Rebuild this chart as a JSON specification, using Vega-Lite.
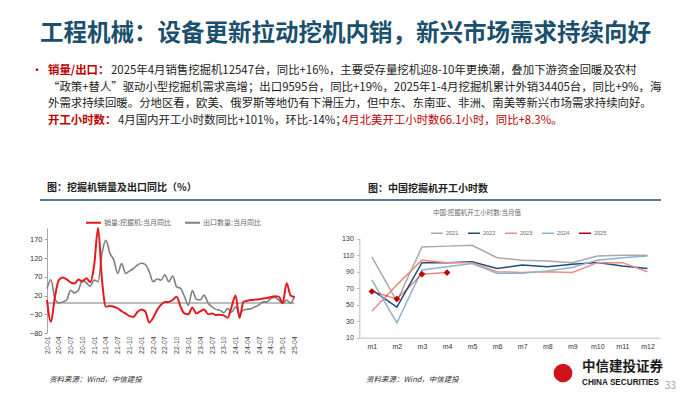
{
  "$schema": "https://vega.github.io/schema/vega-lite/v6.json",
  "width": 700,
  "height": 394,
  "autosize": {"type": "none"},
  "padding": 0,
  "background": "white",
  "config": {
    "view": {"stroke": null},
    "font": "Noto Sans CJK SC",
    "axis": {"labelFont": "Liberation Sans", "grid": false},
    "legend": {"labelFont": "Noto Sans CJK SC", "padding": 0}
  },
  "layer": [
    {
      "data": {"values": [{"t": "工程机械：设备更新拉动挖机内销，新兴市场需求持续向好"}]},
      "mark": {"type": "text", "x": 40, "y": 34, "align": "left", "baseline": "middle", "fontSize": 23.5, "fontWeight": "bold", "color": "#1b4f6e"},
      "encoding": {"text": {"field": "t"}}
    },
    {
      "data": {"values": [
        {"line": "1", "seg": "bullet", "t": "•"},
        {"line": "1", "seg": "label", "t": "销量/出口："},
        {"line": "1", "seg": "body1", "t": "2025年4月销售挖掘机12547台，同比+16%，主要受存量挖机迎8-10年更换潮，叠加下游资金回暖及农村"},
        {"line": "2", "seg": "body0", "t": "“政策+替人”驱动小型挖掘机需求高增；出口9595台，同比+19%，2025年1-4月挖掘机累计外销34405台，同比+9%，海"},
        {"line": "3", "seg": "body0", "t": "外需求持续回暖。分地区看，欧美、俄罗斯等地仍有下滑压力，但中东、东南亚、非洲、南美等新兴市场需求持续向好。"},
        {"line": "4", "seg": "label", "t": "开工小时数："},
        {"line": "4", "seg": "body4", "t": "4月国内开工小时数同比+101%，环比-14%；"},
        {"line": "4", "seg": "tail", "t": "4月北美开工小时数66.1小时，同比+8.3%。"}
      ]},
      "encoding": {
        "y": {"field": "line", "type": "ordinal", "scale": {"type": "point", "range": [71, 121], "padding": 0}, "axis": null},
        "text": {"field": "t"}
      },
      "layer": [
        {"transform": [{"filter": "datum.seg === 'bullet'"}], "mark": {"type": "text", "x": 31, "align": "left", "baseline": "middle", "fontSize": 12, "color": "#c00000"}},
        {"transform": [{"filter": "datum.seg === 'label'"}], "mark": {"type": "text", "x": 48, "align": "left", "baseline": "middle", "fontSize": 11.4, "fontWeight": "bold", "color": "#c00000"}},
        {"transform": [{"filter": "datum.seg === 'body1'"}], "mark": {"type": "text", "x": 111, "align": "left", "baseline": "middle", "fontSize": 11.4, "color": "#222222"}},
        {"transform": [{"filter": "datum.seg === 'body0'"}], "mark": {"type": "text", "x": 48, "align": "left", "baseline": "middle", "fontSize": 11.4, "color": "#222222"}},
        {"transform": [{"filter": "datum.seg === 'body4'"}], "mark": {"type": "text", "x": 118, "align": "left", "baseline": "middle", "fontSize": 11.4, "color": "#222222"}},
        {"transform": [{"filter": "datum.seg === 'tail'"}], "mark": {"type": "text", "x": 342, "align": "left", "baseline": "middle", "fontSize": 11.4, "color": "#c00000"}}
      ]
    },
    {
      "data": {"values": [{"t": "图：挖掘机销量及出口同比（%）"}]},
      "mark": {"type": "text", "x": 47, "y": 188, "align": "left", "baseline": "middle", "fontSize": 10, "fontWeight": "bold", "color": "#222222"},
      "encoding": {"text": {"field": "t"}}
    },
    {
      "data": {"values": [{"t": "图：中国挖掘机开工小时数"}]},
      "mark": {"type": "text", "x": 368, "y": 189, "align": "left", "baseline": "middle", "fontSize": 10, "fontWeight": "bold", "color": "#222222"},
      "encoding": {"text": {"field": "t"}}
    },
    {
      "data": {"values": [{}]},
      "mark": {"type": "rule", "color": "#1f4e79", "strokeWidth": 1.5},
      "encoding": {"x": {"value": 40}, "x2": {"value": 661}, "y": {"value": 200}}
    },
    {
      "data": {"values": [{"t": "中国:挖掘机开工小时数:当月值"}]},
      "mark": {"type": "text", "x": 477, "y": 213, "align": "center", "baseline": "middle", "fontSize": 6.5, "color": "#666666"},
      "encoding": {"text": {"field": "t"}}
    },
    {
      "data": {"values": [
        {"m": "20-01", "s": 8, "e": 39}, {"m": "20-02", "s": -50, "e": 62}, {"m": "20-03", "s": 15, "e": 12},
        {"m": "20-04", "s": 61, "e": 0}, {"m": "20-05", "s": 68, "e": 3}, {"m": "20-06", "s": 63, "e": 8},
        {"m": "20-07", "s": 55, "e": 34}, {"m": "20-08", "s": 52, "e": 27}, {"m": "20-09", "s": 63, "e": 34},
        {"m": "20-10", "s": 57, "e": 61}, {"m": "20-11", "s": 66, "e": 54}, {"m": "20-12", "s": 56, "e": 45},
        {"m": "21-01", "s": 100, "e": 61}, {"m": "21-02", "s": 200, "e": 57}, {"m": "21-03", "s": 61, "e": 133},
        {"m": "21-04", "s": -10, "e": 167}, {"m": "21-05", "s": -8, "e": 133}, {"m": "21-06", "s": -10, "e": 115},
        {"m": "21-07", "s": -14, "e": 79}, {"m": "21-08", "s": -22, "e": 105}, {"m": "21-09", "s": -28, "e": 79},
        {"m": "21-10", "s": -35, "e": 85}, {"m": "21-11", "s": -37, "e": 92}, {"m": "21-12", "s": -24, "e": 101},
        {"m": "22-01", "s": -17, "e": 106}, {"m": "22-02", "s": -22, "e": 103}, {"m": "22-03", "s": -52, "e": 84},
        {"m": "22-04", "s": -40, "e": 57}, {"m": "22-05", "s": -19, "e": 64}, {"m": "22-06", "s": -5, "e": 61},
        {"m": "22-07", "s": 3, "e": 75}, {"m": "22-08", "s": 3, "e": 57}, {"m": "22-09", "s": 8, "e": 72},
        {"m": "22-10", "s": 17, "e": 43}, {"m": "22-11", "s": -10, "e": 39}, {"m": "22-12", "s": -28, "e": 17},
        {"m": "23-01", "s": -30, "e": -6}, {"m": "23-02", "s": -12, "e": 33}, {"m": "23-03", "s": -28, "e": 10},
        {"m": "23-04", "s": -22, "e": 8}, {"m": "23-05", "s": -17, "e": 21}, {"m": "23-06", "s": -30, "e": 0},
        {"m": "23-07", "s": -28, "e": -10}, {"m": "23-08", "s": -32, "e": -17}, {"m": "23-09", "s": -31, "e": -19},
        {"m": "23-10", "s": -33, "e": -26}, {"m": "23-11", "s": -39, "e": -15}, {"m": "23-12", "s": -10, "e": -24},
        {"m": "24-01", "s": 20, "e": -10}, {"m": "24-02", "s": -40, "e": -28}, {"m": "24-03", "s": 3, "e": -19},
        {"m": "24-04", "s": 6, "e": -17}, {"m": "24-05", "s": 8, "e": -15}, {"m": "24-06", "s": 9, "e": -10},
        {"m": "24-07", "s": 10, "e": -5}, {"m": "24-08", "s": 12, "e": 3}, {"m": "24-09", "s": 13, "e": 3},
        {"m": "24-10", "s": 16, "e": 12}, {"m": "24-11", "s": 18, "e": 15}, {"m": "24-12", "s": 17, "e": 8},
        {"m": "25-01", "s": 0, "e": -1}, {"m": "25-02", "s": 53, "e": 8}, {"m": "25-03", "s": 20, "e": -1},
        {"m": "25-04", "s": 16, "e": 19}
      ]},
      "encoding": {
        "x": {
          "field": "m", "type": "ordinal",
          "scale": {"type": "point", "range": [47, 294.5], "padding": 0},
          "axis": {
            "orient": "bottom", "offset": -61, "title": null,
            "values": ["20-01","20-04","20-07","20-10","21-01","21-04","21-07","21-10","22-01","22-04","22-07","22-10","23-01","23-04","23-07","23-10","24-01","24-04","24-07","24-10","25-01","25-04"],
            "labelAngle": 270, "labelFontSize": 6.8, "labelColor": "#444444", "labelPadding": 3,
            "domain": false, "ticks": false, "labelOverlap": false
          }
        }
      },
      "layer": [
        {
          "data": {"values": [{}]},
          "mark": {"type": "rule", "color": "#a6a6a6", "strokeWidth": 1.5},
          "encoding": {
            "x": {"datum": "20-01", "type": "ordinal"},
            "x2": {"datum": "25-04"},
            "y": {"datum": 0, "type": "quantitative"}
          }
        },
        {
          "transform": [{"fold": ["e", "s"], "as": ["k", "v"]}, {"filter": "datum.k === 'e'"}],
          "mark": {"type": "line", "interpolate": "monotone", "strokeWidth": 1.6},
          "encoding": {
            "y": {
              "field": "v", "type": "quantitative",
              "scale": {"domain": [-80, 200], "range": [333, 228], "nice": false, "zero": false},
              "axis": {"orient": "left", "offset": -47, "values": [-80, -30, 20, 70, 120, 170], "title": null, "labelFontSize": 7.5, "labelColor": "#333333", "domainColor": "#a6a6a6", "tickColor": "#a6a6a6", "tickSize": 3, "labelPadding": 2}
            },
            "color": {
              "field": "k", "type": "nominal",
              "scale": {"domain": ["s", "e"], "range": ["#e3191e", "#7f7f7f"]},
              "legend": {"orient": "none", "legendX": 85, "legendY": 214, "direction": "horizontal", "title": null, "symbolType": "stroke", "symbolSize": 225, "symbolStrokeWidth": 2, "labelFontSize": 7, "labelColor": "#666666", "columnPadding": 10, "labelOffset": 2, "labelExpr": "datum.label === 's' ? '销量:挖掘机:当月同比' : '出口数量:当月同比'"}
            }
          }
        },
        {
          "transform": [{"fold": ["e", "s"], "as": ["k", "v"]}, {"filter": "datum.k === 's'"}],
          "mark": {"type": "line", "interpolate": "monotone", "strokeWidth": 2},
          "encoding": {
            "y": {"field": "v", "type": "quantitative"},
            "color": {"field": "k", "type": "nominal"}
          }
        }
      ]
    },
    {
      "data": {"values": [
        {"m": "m1", "2021": 108, "2022": 68, "2023": 42, "2024": 80, "2025": 66},
        {"m": "m2", "2021": 54, "2022": 47, "2023": 74, "2024": 28, "2025": 57},
        {"m": "m3", "2021": 120, "2022": 101, "2023": 104, "2024": 92, "2025": 87},
        {"m": "m4", "2021": 121, "2022": 101, "2023": 101, "2024": 96, "2025": 89},
        {"m": "m5", "2021": 122, "2022": 102, "2023": 101, "2024": 100},
        {"m": "m6", "2021": 107, "2022": 94, "2023": 90, "2024": 88},
        {"m": "m7", "2021": 104, "2022": 98, "2023": 89, "2024": 88},
        {"m": "m8", "2021": 103, "2022": 96, "2023": 90, "2024": 91},
        {"m": "m9", "2021": 101, "2022": 99, "2023": 89, "2024": 95},
        {"m": "m10", "2021": 109, "2022": 101, "2023": 101, "2024": 104},
        {"m": "m11", "2021": 110, "2022": 97, "2023": 101, "2024": 107},
        {"m": "m12", "2021": 110, "2022": 94, "2023": 90, "2024": 109}
      ]},
      "transform": [{"fold": ["2021", "2022", "2023", "2024", "2025"], "as": ["year", "hours"]}, {"filter": "isValid(datum.hours)"}],
      "encoding": {
        "x": {
          "field": "m", "type": "ordinal",
          "scale": {"type": "point", "domain": ["m1","m2","m3","m4","m5","m6","m7","m8","m9","m10","m11","m12"], "range": [359.3, 660], "padding": 0.5},
          "axis": {"orient": "bottom", "offset": -56.3, "title": null, "labelAngle": 0, "labelFontSize": 7, "labelColor": "#333333", "labelPadding": 5, "domainColor": "#bfbfbf", "ticks": false}
        },
        "y": {
          "field": "hours", "type": "quantitative",
          "scale": {"domain": [10, 130], "range": [337.7, 238.7], "nice": false, "zero": false},
          "axis": {"orient": "left", "offset": -359.3, "values": [10, 30, 50, 70, 90, 110, 130], "title": null, "labelFontSize": 7, "labelColor": "#333333", "domainColor": "#bfbfbf", "tickColor": "#bfbfbf", "tickSize": 3, "labelPadding": 3}
        }
      },
      "layer": [
        {
          "mark": {"type": "line", "strokeWidth": 1.5},
          "encoding": {
            "color": {
              "field": "year", "type": "nominal",
              "scale": {"domain": ["2021", "2022", "2023", "2024", "2025"], "range": ["#a9a9a9", "#1f4e79", "#f08a84", "#8db3cf", "#c00000"]},
              "legend": {
                "orient": "none", "legendX": 430, "legendY": 226, "direction": "horizontal", "title": null,
                "symbolType": "stroke", "symbolSize": 144, "symbolStrokeWidth": 1.5,
                "labelFontSize": 5.5, "labelColor": "#666666", "labelFont": "Liberation Sans", "columnPadding": 6, "labelOffset": 2,
                "encode": {"symbols": {"update": {
                  "shape": {"signal": "datum.label === '2025' ? 'M-1,0H1M0,-0.45L0.45,0L0,0.45L-0.45,0Z' : 'stroke'"},
                  "fill": {"signal": "datum.label === '2025' ? '#c00000' : 'transparent'"}
                }}}
              }
            },
            "opacity": {"condition": {"test": "datum.year === '2025'", "value": 0.45}, "value": 1}
          }
        },
        {
          "transform": [{"filter": "datum.year === '2025'"}],
          "mark": {"type": "point", "shape": "diamond", "filled": true, "size": 45, "color": "#c00000", "opacity": 1}
        }
      ]
    },
    {
      "data": {"values": [{"t": "资料来源：Wind，中信建投"}]},
      "mark": {"type": "text", "x": 49, "y": 380, "align": "left", "baseline": "middle", "fontSize": 7.5, "fontStyle": "italic", "color": "#333333"},
      "encoding": {"text": {"field": "t"}}
    },
    {
      "data": {"values": [{"t": "资料来源：Wind，中信建投"}]},
      "mark": {"type": "text", "x": 366, "y": 380, "align": "left", "baseline": "middle", "fontSize": 7.5, "fontStyle": "italic", "color": "#333333"},
      "encoding": {"text": {"field": "t"}}
    },
    {
      "data": {"values": [{}]},
      "mark": {"type": "point", "shape": "circle", "filled": true, "size": 350, "color": "#d0121b", "opacity": 1},
      "encoding": {"x": {"value": 563}, "y": {"value": 373}}
    },
    {
      "data": {"values": [{"t": "中信建投证券"}]},
      "mark": {"type": "text", "x": 582, "y": 367, "align": "left", "baseline": "middle", "fontSize": 13.5, "fontWeight": "bold", "color": "#1a1a1a"},
      "encoding": {"text": {"field": "t"}}
    },
    {
      "data": {"values": [{"t": "CHINA SECURITIES"}]},
      "mark": {"type": "text", "x": 582, "y": 383, "align": "left", "baseline": "middle", "fontSize": 8.2, "fontWeight": "bold", "font": "Liberation Sans", "color": "#1a1a1a"},
      "encoding": {"text": {"field": "t"}}
    },
    {
      "data": {"values": [{"t": "33"}]},
      "mark": {"type": "text", "x": 665, "y": 386, "align": "left", "baseline": "middle", "fontSize": 10, "color": "#a0a0a0"},
      "encoding": {"text": {"field": "t"}}
    }
  ],
  "resolve": {
    "scale": {"x": "independent", "y": "independent", "color": "independent"},
    "axis": {"x": "independent", "y": "independent"},
    "legend": {"color": "independent"}
  }
}
